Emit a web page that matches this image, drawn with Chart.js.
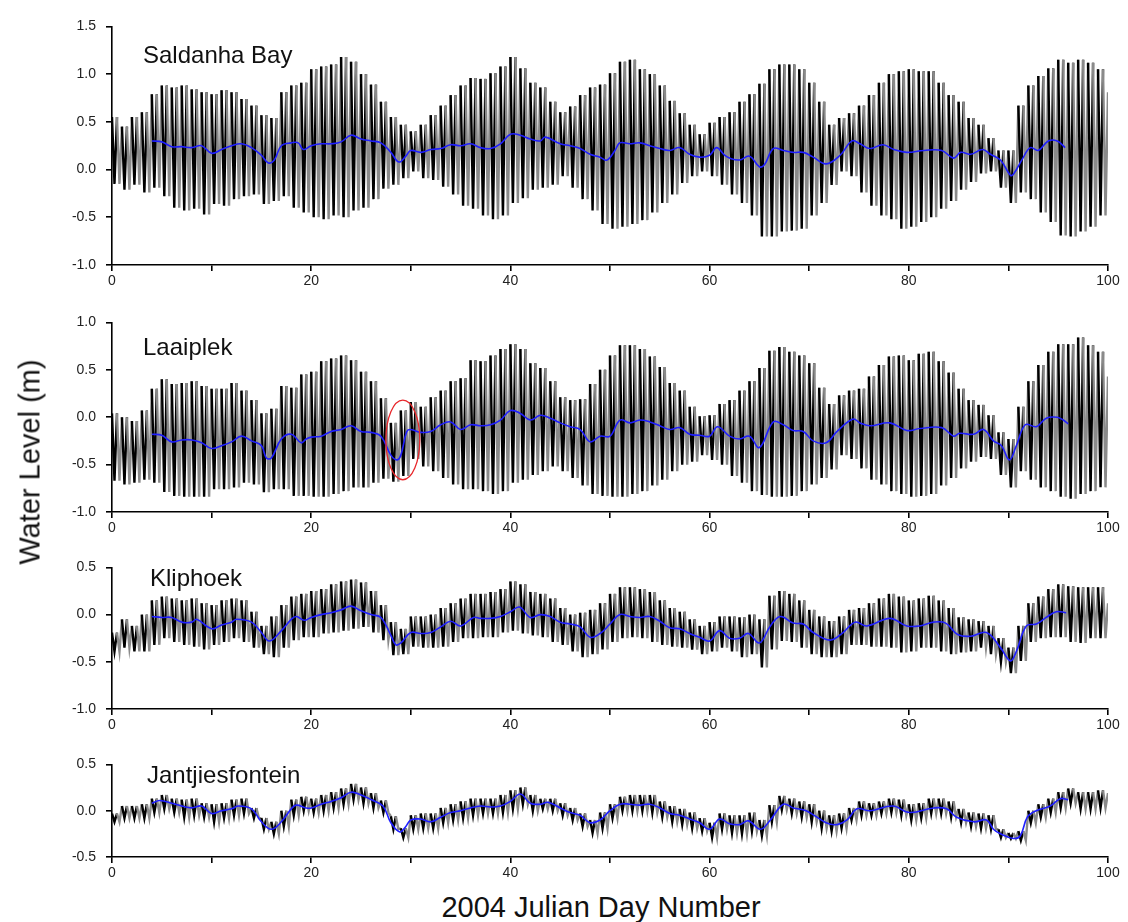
<!DOCTYPE html>
<html>
<head>
<meta charset="utf-8">
<script src="https://cdn.jsdelivr.net/npm/chart.js@4.4.1/dist/chart.umd.min.js"></script>
<style>
  body { margin: 0; background: #fff; width: 1128px; height: 922px; position: relative; overflow: hidden;
         font-family: "Liberation Sans", Arial, sans-serif; }
  canvas { position: absolute; left: 0; }
  #ytitle { position: absolute; left: 30px; top: 462px; transform: translate(-50%, -50%) rotate(-90deg);
            font-size: 29px; white-space: nowrap; color: #111; }
  #xtitle { position: absolute; left: 601px; top: 907px; transform: translate(-50%, -50%);
            font-size: 29px; white-space: nowrap; color: #111; }
</style>
</head>
<body>
<canvas id="p1"></canvas>
<canvas id="p2"></canvas>
<canvas id="p3"></canvas>
<canvas id="p4"></canvas>
<div id="ytitle">Water Level (m)</div>
<div id="xtitle">2004 Julian Day Number</div>
<script>
// station names
const stations = ['Saldanha Bay', 'Laaiplek', 'Kliphoek', 'Jantjiesfontein'];

// daily high / low water envelope, days 0..100 (m)
const saldanhaHigh = [0.55,0.45,0.55,0.6,0.79,0.88,0.86,0.88,0.84,0.81,0.79,0.83,0.81,0.74,0.67,0.57,0.54,0.81,0.88,0.91,
  1.05,1.08,1.1,1.18,1.13,1.0,0.89,0.71,0.55,0.47,0.4,0.47,0.57,0.67,0.78,0.88,0.96,0.95,1.01,1.08,
  1.18,1.06,0.91,0.86,0.71,0.6,0.66,0.78,0.86,0.89,1.01,1.13,1.15,1.05,1.0,0.88,0.72,0.59,0.47,0.37,
  0.49,0.55,0.6,0.71,0.79,0.9,1.05,1.1,1.1,1.05,0.91,0.71,0.47,0.54,0.59,0.67,0.78,0.91,1.0,1.03,
  1.05,1.03,1.03,0.91,0.78,0.71,0.54,0.47,0.33,0.2,0.2,0.67,0.88,0.98,1.06,1.15,1.12,1.15,1.12,1.05,0.81];
const saldanhaLow = [-0.15,-0.21,-0.16,-0.24,-0.19,-0.28,-0.4,-0.43,-0.41,-0.47,-0.36,-0.38,-0.31,-0.28,-0.26,-0.36,-0.33,-0.28,-0.4,-0.45,
  -0.5,-0.52,-0.48,-0.5,-0.43,-0.4,-0.31,-0.2,-0.16,-0.09,-0.02,-0.09,-0.11,-0.18,-0.26,-0.38,-0.41,-0.48,-0.52,-0.48,
  -0.35,-0.3,-0.21,-0.19,-0.16,-0.07,-0.19,-0.31,-0.43,-0.57,-0.62,-0.6,-0.57,-0.53,-0.45,-0.35,-0.26,-0.14,-0.07,-0.02,
  -0.07,-0.16,-0.26,-0.35,-0.48,-0.7,-0.7,-0.65,-0.64,-0.62,-0.48,-0.35,-0.16,-0.02,-0.07,-0.24,-0.38,-0.48,-0.52,-0.62,
  -0.6,-0.55,-0.5,-0.41,-0.33,-0.21,-0.13,-0.04,-0.02,-0.19,-0.35,-0.24,-0.31,-0.45,-0.55,-0.69,-0.7,-0.65,-0.6,-0.48,-0.31];

const laaiplekHigh = [0.04,0.0,-0.04,0.07,0.3,0.4,0.35,0.36,0.38,0.33,0.3,0.3,0.36,0.28,0.18,0.04,0.09,0.33,0.31,0.45,
  0.48,0.59,0.62,0.65,0.6,0.48,0.38,0.2,-0.06,0.07,0.16,0.11,0.21,0.28,0.38,0.41,0.6,0.59,0.65,0.72,
  0.77,0.72,0.57,0.52,0.38,0.21,0.18,0.19,0.35,0.5,0.65,0.76,0.76,0.72,0.64,0.53,0.36,0.28,0.11,0.01,
  0.02,0.14,0.18,0.28,0.38,0.52,0.7,0.74,0.69,0.65,0.57,0.31,0.14,0.23,0.28,0.3,0.43,0.55,0.64,0.65,
  0.6,0.67,0.69,0.59,0.47,0.3,0.18,0.13,0.02,-0.16,-0.23,0.11,0.38,0.55,0.69,0.77,0.77,0.84,0.76,0.69,0.43];
const laaiplekLow = [-0.67,-0.71,-0.69,-0.66,-0.69,-0.79,-0.83,-0.84,-0.84,-0.84,-0.76,-0.76,-0.74,-0.69,-0.71,-0.79,-0.76,-0.76,-0.83,-0.83,
  -0.84,-0.84,-0.81,-0.78,-0.74,-0.74,-0.69,-0.65,-0.68,-0.62,-0.44,-0.52,-0.57,-0.64,-0.71,-0.76,-0.76,-0.78,-0.81,-0.78,
  -0.69,-0.66,-0.61,-0.57,-0.52,-0.57,-0.64,-0.72,-0.81,-0.83,-0.84,-0.84,-0.81,-0.78,-0.72,-0.66,-0.57,-0.5,-0.47,-0.4,
  -0.45,-0.5,-0.62,-0.69,-0.78,-0.82,-0.84,-0.84,-0.83,-0.78,-0.71,-0.64,-0.55,-0.4,-0.44,-0.54,-0.66,-0.71,-0.78,-0.81,
  -0.84,-0.83,-0.81,-0.72,-0.64,-0.54,-0.47,-0.42,-0.44,-0.61,-0.74,-0.57,-0.66,-0.74,-0.78,-0.84,-0.86,-0.81,-0.78,-0.74,-0.5];

const kliphoekHigh = [-0.19,-0.05,-0.12,0.0,0.15,0.19,0.17,0.15,0.17,0.12,0.1,0.15,0.17,0.15,0.03,-0.12,-0.02,0.1,0.19,0.22,
  0.25,0.27,0.32,0.35,0.37,0.34,0.25,0.1,-0.08,-0.15,-0.02,-0.02,0.0,0.07,0.12,0.17,0.22,0.22,0.24,0.27,
  0.35,0.32,0.24,0.22,0.17,0.07,0.0,0.02,0.05,0.12,0.22,0.29,0.29,0.27,0.24,0.15,0.07,0.03,-0.05,-0.12,
  -0.08,-0.02,-0.02,-0.03,0.0,-0.05,0.2,0.25,0.22,0.15,0.05,-0.02,-0.07,-0.02,0.05,0.07,0.12,0.17,0.22,0.19,
  0.15,0.17,0.2,0.15,0.07,-0.03,-0.05,-0.07,-0.12,-0.25,-0.35,-0.12,0.12,0.19,0.27,0.32,0.3,0.29,0.29,0.29,0.12];
const kliphoekLow = [-0.39,-0.35,-0.39,-0.39,-0.32,-0.25,-0.29,-0.32,-0.34,-0.37,-0.32,-0.29,-0.25,-0.29,-0.35,-0.42,-0.45,-0.35,-0.27,-0.24,
  -0.24,-0.2,-0.19,-0.17,-0.15,-0.13,-0.19,-0.27,-0.43,-0.42,-0.34,-0.35,-0.35,-0.34,-0.29,-0.25,-0.25,-0.24,-0.24,-0.19,
  -0.17,-0.2,-0.22,-0.24,-0.29,-0.32,-0.39,-0.45,-0.42,-0.37,-0.29,-0.25,-0.24,-0.25,-0.29,-0.32,-0.34,-0.35,-0.37,-0.42,
  -0.39,-0.35,-0.39,-0.45,-0.42,-0.56,-0.37,-0.28,-0.29,-0.35,-0.42,-0.45,-0.45,-0.42,-0.32,-0.32,-0.34,-0.34,-0.35,-0.4,
  -0.39,-0.35,-0.35,-0.39,-0.42,-0.4,-0.39,-0.35,-0.42,-0.5,-0.62,-0.49,-0.29,-0.25,-0.24,-0.24,-0.29,-0.3,-0.25,-0.25,-0.15];

const jantjiesHigh = [-0.03,0.05,0.05,0.07,0.13,0.17,0.13,0.12,0.13,0.08,0.07,0.08,0.12,0.13,0.03,-0.08,-0.12,0.0,0.12,0.15,
  0.13,0.17,0.2,0.24,0.29,0.25,0.19,0.11,-0.06,-0.19,-0.05,-0.03,-0.03,0.03,0.07,0.1,0.13,0.13,0.13,0.17,
  0.22,0.25,0.17,0.13,0.13,0.08,0.03,-0.03,-0.1,-0.02,0.07,0.15,0.17,0.17,0.17,0.1,0.05,0.02,-0.02,-0.08,
  -0.13,-0.03,-0.05,-0.05,-0.02,-0.1,0.06,0.16,0.13,0.1,0.07,0.0,-0.05,-0.03,0.03,0.1,0.08,0.1,0.13,0.12,
  0.07,0.08,0.13,0.13,0.1,0.02,-0.02,-0.03,-0.05,-0.2,-0.24,-0.22,0.0,0.07,0.13,0.2,0.24,0.2,0.2,0.22,0.19];
const jantjiesLow = [-0.12,-0.08,-0.08,-0.08,-0.02,0.02,-0.02,-0.07,-0.05,-0.07,-0.12,-0.08,-0.05,-0.03,-0.08,-0.2,-0.25,-0.17,-0.05,0.0,
  -0.02,0.0,0.03,0.07,0.12,0.08,0.03,-0.02,-0.2,-0.29,-0.2,-0.19,-0.19,-0.13,-0.1,-0.08,-0.05,-0.03,-0.03,-0.02,
  0.02,0.07,0.0,0.02,0.0,-0.05,-0.1,-0.17,-0.24,-0.19,-0.08,0.0,0.0,0.0,-0.02,-0.07,-0.12,-0.15,-0.19,-0.22,
  -0.29,-0.2,-0.24,-0.25,-0.22,-0.27,-0.12,0.01,-0.03,-0.07,-0.12,-0.19,-0.22,-0.19,-0.1,-0.05,-0.05,-0.03,-0.02,-0.05,
  -0.1,-0.08,-0.03,-0.03,-0.07,-0.13,-0.17,-0.19,-0.2,-0.29,-0.3,-0.32,-0.13,-0.07,-0.02,0.03,0.08,0.02,0.02,0.03,0.07];

// filtered (mean) water level, [day, m]
const saldanhaMean = [[4,0.3],[5,0.29],[6,0.24],[7,0.24],[8,0.23],[9,0.25],[10,0.17],[11,0.21],[12,0.25],[13,0.27],[14,0.23],[15,0.15],
  [15.7,0.07],[16.3,0.1],[17,0.25],[18,0.28],[18.7,0.28],[19.2,0.21],[20,0.25],[21,0.27],[22,0.27],[23,0.29],[24,0.36],[25,0.32],
  [26,0.3],[27,0.28],[28,0.18],[28.8,0.08],[29.5,0.14],[30,0.2],[31,0.18],[32,0.21],[33,0.22],[34,0.26],[35,0.25],[36,0.27],
  [37,0.23],[38,0.22],[39,0.27],[40,0.37],[41,0.36],[42,0.32],[43,0.3],[43.5,0.34],[45,0.27],[46,0.25],[47,0.22],[48,0.16],
  [49,0.13],[49.7,0.1],[50.5,0.2],[51,0.28],[52,0.27],[53,0.28],[54,0.25],[55,0.22],[56,0.2],[57,0.23],[58,0.16],[59,0.13],
  [60,0.15],[60.7,0.23],[61.5,0.15],[62,0.12],[63,0.1],[64,0.14],[65,0.03],[65.5,0.05],[66.4,0.22],[67.4,0.2],[68.4,0.18],
  [69.4,0.18],[70.4,0.13],[71.7,0.06],[73.1,0.15],[74.3,0.3],[75.1,0.27],[76.1,0.22],[77.4,0.26],[78.5,0.21],[79.8,0.18],
  [81.5,0.2],[83.3,0.2],[84.5,0.12],[85.2,0.18],[86.2,0.16],[87.4,0.21],[88.2,0.16],[89.2,0.1],[90.2,-0.06],[90.5,-0.05],
  [91.4,0.11],[92.2,0.23],[93,0.2],[94,0.3],[94.9,0.3],[95.7,0.23]];
const laaiplekMean = [[4,-0.18],[5,-0.19],[6,-0.26],[7,-0.24],[8,-0.24],[9,-0.27],[10,-0.33],[11,-0.3],[12,-0.26],[13,-0.2],
  [14,-0.25],[15,-0.3],[15.5,-0.43],[16,-0.43],[17,-0.23],[18,-0.18],[19,-0.27],[19.5,-0.23],[20,-0.21],[21,-0.2],[22,-0.15],
  [23,-0.13],[24,-0.09],[25,-0.15],[26,-0.16],[27,-0.2],[28,-0.4],[28.6,-0.45],[29,-0.4],[29.6,-0.15],[30,-0.13],[31,-0.16],
  [32,-0.15],[33,-0.08],[34,-0.05],[35,-0.13],[36,-0.08],[37,-0.09],[38,-0.08],[39,-0.03],[40,0.07],[41,0.04],[42,-0.03],
  [43,0.02],[44,-0.01],[45,-0.06],[46,-0.1],[47,-0.13],[48,-0.26],[49,-0.2],[50,-0.2],[51,-0.03],[52,-0.06],[53,-0.03],
  [54,-0.05],[55,-0.09],[56,-0.13],[57,-0.11],[58,-0.18],[59,-0.19],[60,-0.2],[60.8,-0.1],[62,-0.2],[63,-0.23],[64,-0.2],
  [65,-0.32],[66.4,-0.05],[67.4,-0.08],[68.4,-0.14],[69.4,-0.15],[70.4,-0.25],[71.7,-0.27],[72.8,-0.15],[74.4,-0.02],
  [75.1,-0.06],[76.1,-0.09],[78.1,-0.06],[79.8,-0.14],[81.1,-0.12],[83.3,-0.11],[84.5,-0.2],[85.1,-0.17],[86.5,-0.18],
  [87.5,-0.13],[88.5,-0.25],[89.3,-0.3],[90.1,-0.45],[90.8,-0.3],[91.7,-0.08],[92.8,-0.1],[93.8,-0.01],[94.9,0.0],
  [95.5,-0.03],[96,-0.07]];
const kliphoekMean = [[4,-0.02],[5,-0.03],[6,-0.03],[7,-0.08],[8,-0.08],[8.5,-0.05],[10,-0.15],[11,-0.11],[12,-0.08],[12.5,-0.05],
  [14,-0.08],[15,-0.19],[15.8,-0.28],[17,-0.17],[18,-0.05],[18.5,-0.02],[19.3,-0.06],[20,-0.03],[21,0.0],[22,0.02],[23,0.05],
  [24,0.09],[25,0.04],[26,0.0],[27,-0.03],[28,-0.22],[28.5,-0.32],[29,-0.3],[30,-0.19],[31,-0.2],[32,-0.19],[33,-0.13],
  [34,-0.07],[35,-0.12],[36.3,-0.03],[37,-0.04],[38,-0.04],[39,-0.02],[40,0.03],[40.9,0.08],[42,-0.03],[43,0.0],[44,-0.02],
  [45,-0.08],[46,-0.1],[47,-0.13],[48,-0.24],[49,-0.2],[50,-0.1],[51,0.0],[52,-0.02],[53,-0.03],[54,-0.02],[55,-0.07],
  [56,-0.14],[57,-0.15],[58,-0.2],[59,-0.24],[60,-0.28],[61,-0.17],[62,-0.25],[63,-0.25],[63.9,-0.2],[65,-0.3],[66.1,-0.12],
  [67.1,-0.02],[68.4,-0.09],[69.4,-0.1],[70.4,-0.19],[72.1,-0.27],[73.4,-0.19],[74.6,-0.08],[75.8,-0.12],[78.1,-0.04],
  [79.8,-0.12],[81.1,-0.12],[82.5,-0.08],[83.7,-0.09],[84.9,-0.21],[86.2,-0.23],[87.8,-0.19],[89.2,-0.35],[90.2,-0.49],
  [90.8,-0.39],[91.8,-0.12],[92.8,-0.1],[93.8,-0.03],[94.8,0.03],[95.8,0.02]];
const jantjiesMean = [[4,0.08],[4.8,0.11],[6,0.08],[7,0.05],[8,0.03],[9,0.05],[10,-0.03],[11,0.0],[12,0.02],[12.7,0.05],[14,0.02],
  [15,-0.12],[16,-0.2],[17,-0.12],[18,0.02],[18.5,0.06],[19.5,0.03],[20,0.03],[21,0.07],[22,0.1],[23,0.14],[24,0.2],[25,0.17],
  [26,0.12],[27.2,0.05],[28,-0.13],[28.9,-0.23],[29.5,-0.17],[30,-0.1],[31,-0.09],[32,-0.12],[33,-0.07],[34,-0.02],[35,0.0],
  [36,0.03],[37,0.05],[38,0.04],[39,0.05],[40,0.1],[41,0.18],[42,0.08],[43,0.07],[43.8,0.09],[45,0.03],[46,-0.02],[47,-0.05],
  [48,-0.13],[49,-0.1],[50,0.0],[51,0.07],[52,0.07],[53,0.06],[54,0.07],[55,0.03],[56,-0.03],[57,-0.05],[58,-0.09],[59,-0.13],
  [60,-0.2],[61,-0.09],[62,-0.14],[63,-0.15],[63.9,-0.11],[65.1,-0.2],[66.1,-0.1],[67.4,0.07],[68.4,0.03],[69.7,0.0],
  [71.7,-0.13],[72.8,-0.15],[73.8,-0.1],[74.8,0.02],[76.1,0.0],[78.4,0.05],[80.1,-0.02],[82.5,0.03],[83.8,0.02],[84.8,-0.07],
  [86.5,-0.12],[87.8,-0.1],[88.5,-0.2],[89.2,-0.25],[90.5,-0.3],[91.2,-0.27],[91.9,-0.07],[92.8,0.0],[94.2,0.05],[95.2,0.13],
  [96,0.12]];

// axis limits per panel
const yMins = [-1.0, -1.0, -1.0, -0.5];
const yMaxs = [1.5, 1.0, 0.5, 0.5];
const xTickLabels = [0, 20, 40, 60, 80, 100];

// highlighted event on Laaiplek (day, m)
const eventCentre = [29.2, -0.24];
const eventRadius = [1.7, 0.42];

// panel placement on the page (plot area top/bottom in px)
const plotTops = [20, 316, 561, 758];
const plotBottoms = [265, 512, 709, 857];
const titleOffsets = [[31, 30], [31, 26], [38, 12], [35, 12]];

// two high and two low waters per day
function tideSeries(high, low) {
    const pts = [];
    for (let d = 0; d < high.length; d++) {
        pts.push({ x: d, y: high[d] });
        if (d < high.length - 1) {
            pts.push({ x: d + 0.25, y: low[d] });
            pts.push({ x: d + 0.5, y: high[d] });
            pts.push({ x: d + 0.75, y: low[d] });
        }
    }
    return pts;
}

const highs = [saldanhaHigh, laaiplekHigh, kliphoekHigh, jantjiesHigh];
const lows = [saldanhaLow, laaiplekLow, kliphoekLow, jantjiesLow];
const means = [saldanhaMean, laaiplekMean, kliphoekMean, jantjiesMean];

const PAD_TOP = 12, X_AXIS_H = 30, Y_AXIS_W = 112, PAD_RIGHT = 20;

const panelTitle = {
    id: 'panelTitle',
    afterDraw(chart, args, opts) {
        const c = chart.ctx, a = chart.chartArea;
        c.save();
        c.font = '24px "Liberation Sans", Arial, sans-serif';
        c.fillStyle = '#111';
        c.textBaseline = 'middle';
        c.fillText(opts.text, a.left + opts.dx, a.top + opts.dy);
        c.restore();
    }
};

const eventRing = {
    id: 'eventRing',
    afterDatasetsDraw(chart, args, opts) {
        if (!opts.show) return;
        const xs = chart.scales.x, ys = chart.scales.y, c = chart.ctx;
        const cx = xs.getPixelForValue(eventCentre[0]);
        const cy = ys.getPixelForValue(eventCentre[1]);
        const rx = xs.getPixelForValue(eventCentre[0] + eventRadius[0]) - cx;
        const ry = cy - ys.getPixelForValue(eventCentre[1] + eventRadius[1]);
        c.save();
        c.strokeStyle = '#e8262a';
        c.lineWidth = 1.3;
        c.beginPath();
        c.ellipse(cx, cy, rx, ry, 0, 0, Math.PI * 2);
        c.stroke();
        c.restore();
    }
};

const tickFont = { family: '"Liberation Sans", Arial, sans-serif', size: 14 };

stations.forEach((name, i) => {
    const cv = document.getElementById('p' + (i + 1));
    const h = plotBottoms[i] - plotTops[i] + PAD_TOP + X_AXIS_H;
    cv.width = 1128;
    cv.height = h;
    cv.style.top = (plotTops[i] - PAD_TOP) + 'px';

    new Chart(cv.getContext('2d'), {
        type: 'line',
        data: {
            datasets: [
                {
                    label: name + ' filtered',
                    data: means[i].map(p => ({ x: p[0], y: p[1] })),
                    borderColor: '#1f1fff',
                    borderWidth: 1.6,
                    pointRadius: 0,
                    tension: 0.4,
                    order: 0
                },
                {
                    label: name,
                    data: tideSeries(highs[i], lows[i]),
                    borderWidth: 2.4,
                    pointRadius: 0,
                    tension: 0,
                    order: 1,
                    borderColor: '#000',
                    segment: {
                        // every other tidal cycle prints grey in the scanned figure
                        borderColor: ctx => Math.floor(ctx.p0DataIndex / 2) % 2 ? '#8a8a8a' : '#000'
                    }
                }
            ]
        },
        options: {
            responsive: false,
            animation: false,
            devicePixelRatio: 1,
            layout: { padding: { top: PAD_TOP, right: PAD_RIGHT, left: 0, bottom: 0 } },
            plugins: {
                legend: { display: false },
                tooltip: { enabled: false },
                panelTitle: { text: name, dx: titleOffsets[i][0], dy: titleOffsets[i][1] },
                eventRing: { show: i === 1 }
            },
            scales: {
                x: {
                    type: 'linear',
                    min: 0,
                    max: 100,
                    afterFit: s => { s.height = X_AXIS_H; },
                    border: { display: true, color: '#000', width: 1.6 },
                    grid: { display: true, drawOnChartArea: false, drawTicks: true, tickLength: 6, color: '#000', lineWidth: 1.6 },
                    ticks: {
                        stepSize: 10,
                        autoSkip: false,
                        maxRotation: 0,
                        padding: 2,
                        color: '#222',
                        font: tickFont,
                        callback: v => xTickLabels.includes(v) ? String(v) : ''
                    }
                },
                y: {
                    type: 'linear',
                    min: yMins[i],
                    max: yMaxs[i],
                    afterFit: s => { s.width = Y_AXIS_W; },
                    border: { display: true, color: '#000', width: 1.6 },
                    grid: { display: true, drawOnChartArea: false, drawTicks: true, tickLength: 6, color: '#000', lineWidth: 1.6 },
                    ticks: {
                        stepSize: 0.5,
                        padding: 10,
                        color: '#222',
                        font: tickFont,
                        callback: v => v.toFixed(1)
                    }
                }
            }
        },
        plugins: [panelTitle, eventRing]
    });
});
</script>
</body>
</html>
